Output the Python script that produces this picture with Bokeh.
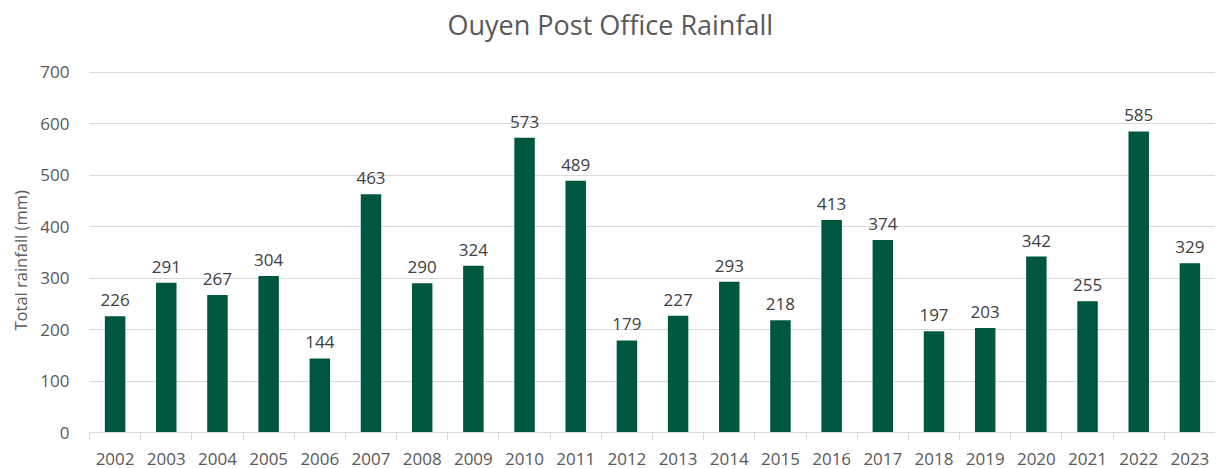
from bokeh.plotting import figure
from bokeh.models import ColumnDataSource, FixedTicker, Range1d, Title
from bokeh.core.properties import value
from bokeh.embed import file_html
from bokeh.resources import INLINE

years = ["2002", "2003", "2004", "2005", "2006", "2007", "2008", "2009", "2010", "2011",
         "2012", "2013", "2014", "2015", "2016", "2017", "2018", "2019", "2020", "2021",
         "2022", "2023"]
rainfall = [226, 291, 267, 304, 144, 463, 290, 324, 573, 489,
            179, 227, 293, 218, 413, 374, 197, 203, 342, 255,
            585, 329]
y_ticks = [0, 100, 200, 300, 400, 500, 600, 700]
title = "Ouyen Post Office Rainfall"
y_title = "Total rainfall (mm)"

FONT = "Open Sans"
GREY = "#595959"
BAR = "#00573f"

centers = [i + 0.5 for i in range(len(years))]
bounds = [i for i in range(len(years) + 1)]

src = ColumnDataSource(dict(x=centers, top=rainfall, label=[str(v) for v in rainfall]))

# frame reaches a little above the top gridline (700) to leave room for the title
p = figure(width=1215, height=468, output_backend="svg", toolbar_location=None,
           x_range=Range1d(0, len(years)), y_range=Range1d(0, 754),
           min_border_left=82, min_border_right=0, min_border_top=44, min_border_bottom=36)

p.title.text = title
p.title.text_font = FONT
p.title.text_font_size = "27px"
p.title.text_font_style = "normal"
p.title.text_color = GREY
p.title.align = "left"
p.title.offset = 358
p.title.standoff = 4

p.vbar(x="x", top="top", bottom=0, width=0.4, source=src, fill_color=BAR, line_color=None)
p.text(x="x", y="top", text="label", source=src, text_align="center",
       text_baseline="alphabetic", y_offset=-16, text_font=value(FONT),
       text_font_size="17px", text_color="#404040")

p.outline_line_color = None
p.xgrid.grid_line_color = None
p.ygrid.grid_line_color = "#d9d9d9"
p.ygrid.ticker = FixedTicker(ticks=y_ticks)

# y axis
p.yaxis.ticker = FixedTicker(ticks=y_ticks)
p.yaxis.axis_line_color = None
p.yaxis.major_tick_line_color = None
p.yaxis.minor_tick_line_color = None
p.yaxis.major_tick_in = 0
p.yaxis.major_tick_out = 0
p.yaxis.major_label_text_font = FONT
p.yaxis.major_label_text_font_size = "17px"
p.yaxis.major_label_text_color = GREY
p.yaxis.major_label_standoff = 20

# y-axis title, placed along the left side
p.add_layout(Title(text=y_title, align="left", offset=102, standoff=12,
                   text_font=FONT, text_font_size="16.5px", text_font_style="normal",
                   text_color=GREY), "left")

# x axis: labels at centres, ticks at boundaries
p.xaxis.ticker = FixedTicker(ticks=centers, minor_ticks=bounds)
p.xaxis.major_label_overrides = {c: y for c, y in zip(centers, years)}
p.xaxis.axis_line_color = "#d9d9d9"
p.xaxis.major_tick_line_color = None
p.xaxis.major_tick_in = 0
p.xaxis.major_tick_out = 8
p.xaxis.minor_tick_line_color = "#d9d9d9"
p.xaxis.minor_tick_in = 0
p.xaxis.minor_tick_out = 8
p.xaxis.major_label_text_font = FONT
p.xaxis.major_label_text_font_size = "17px"
p.xaxis.major_label_text_color = GREY
p.xaxis.major_label_standoff = 12

open("out.html", "w").write(file_html(p, INLINE))
